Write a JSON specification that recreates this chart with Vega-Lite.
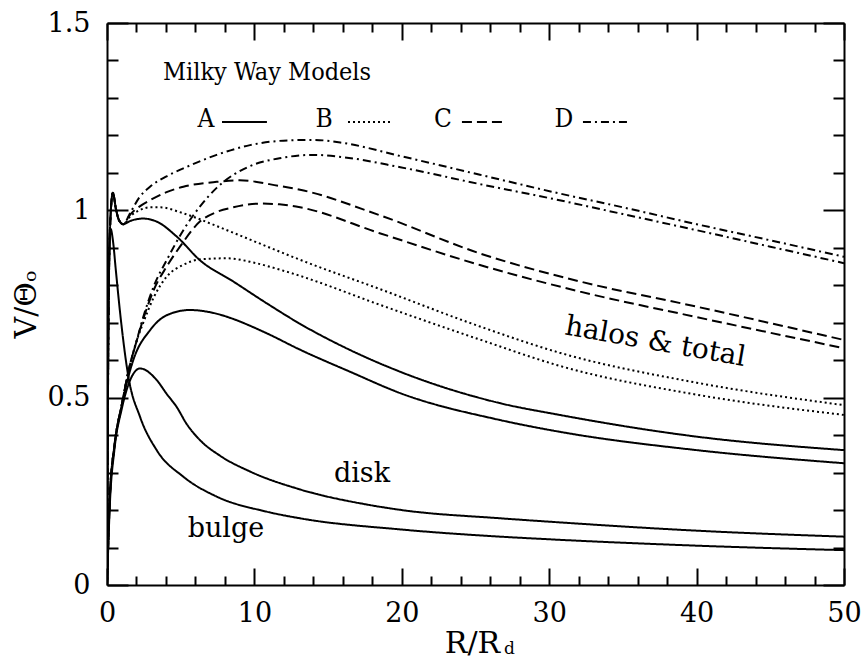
{
  "$schema": "https://vega.github.io/schema/vega-lite/v6.json",
  "width": 737,
  "height": 562,
  "autosize": {"type": "none"},
  "padding": {"left": 107, "top": 23, "right": 21, "bottom": 77},
  "background": "white",
  "config": {
    "view": {"stroke": null},
    "axis": {
      "grid": false,
      "domainColor": "black",
      "domainWidth": 2,
      "tickColor": "black",
      "tickWidth": 2,
      "labelFont": "DejaVu Serif",
      "labelFontSize": 27,
      "labelColor": "black",
      "labelFlush": false,
      "labelOverlap": false,
      "titleFont": "DejaVu Serif",
      "titleFontSize": 30,
      "titleFontWeight": "normal",
      "titleColor": "black"
    }
  },
  "datasets": {
    "curves": [
      {"series": "bulge", "model": "common", "r": 0, "v": 0},
      {"series": "bulge", "model": "common", "r": 0.05, "v": 0.5},
      {"series": "bulge", "model": "common", "r": 0.12, "v": 0.82},
      {"series": "bulge", "model": "common", "r": 0.25, "v": 0.95},
      {"series": "bulge", "model": "common", "r": 0.4, "v": 0.92},
      {"series": "bulge", "model": "common", "r": 0.6, "v": 0.84},
      {"series": "bulge", "model": "common", "r": 0.88, "v": 0.73},
      {"series": "bulge", "model": "common", "r": 1.45, "v": 0.556},
      {"series": "bulge", "model": "common", "r": 2.24, "v": 0.449},
      {"series": "bulge", "model": "common", "r": 3.37, "v": 0.36},
      {"series": "bulge", "model": "common", "r": 5.18, "v": 0.289},
      {"series": "bulge", "model": "common", "r": 7.44, "v": 0.236},
      {"series": "bulge", "model": "common", "r": 10.8, "v": 0.196},
      {"series": "bulge", "model": "common", "r": 13.1, "v": 0.178},
      {"series": "bulge", "model": "common", "r": 20, "v": 0.148},
      {"series": "bulge", "model": "common", "r": 26.7, "v": 0.129},
      {"series": "bulge", "model": "common", "r": 30, "v": 0.122},
      {"series": "bulge", "model": "common", "r": 40, "v": 0.105},
      {"series": "bulge", "model": "common", "r": 50, "v": 0.093},

      {"series": "disk", "model": "common", "r": 0, "v": 0},
      {"series": "disk", "model": "common", "r": 0.2, "v": 0.22},
      {"series": "disk", "model": "common", "r": 0.5, "v": 0.36},
      {"series": "disk", "model": "common", "r": 1, "v": 0.47},
      {"series": "disk", "model": "common", "r": 1.5, "v": 0.54},
      {"series": "disk", "model": "common", "r": 2.24, "v": 0.578},
      {"series": "disk", "model": "common", "r": 3.37, "v": 0.547},
      {"series": "disk", "model": "common", "r": 4.05, "v": 0.51},
      {"series": "disk", "model": "common", "r": 4.73, "v": 0.475},
      {"series": "disk", "model": "common", "r": 5.4, "v": 0.43},
      {"series": "disk", "model": "common", "r": 6.3, "v": 0.387},
      {"series": "disk", "model": "common", "r": 7.67, "v": 0.345},
      {"series": "disk", "model": "common", "r": 9.7, "v": 0.303},
      {"series": "disk", "model": "common", "r": 13.1, "v": 0.255},
      {"series": "disk", "model": "common", "r": 17.6, "v": 0.215},
      {"series": "disk", "model": "common", "r": 20, "v": 0.2},
      {"series": "disk", "model": "common", "r": 26.7, "v": 0.178},
      {"series": "disk", "model": "common", "r": 30, "v": 0.169},
      {"series": "disk", "model": "common", "r": 40, "v": 0.145},
      {"series": "disk", "model": "common", "r": 50, "v": 0.129},

      {"series": "halo A", "model": "A", "r": 0, "v": 0},
      {"series": "halo A", "model": "A", "r": 0.2, "v": 0.24},
      {"series": "halo A", "model": "A", "r": 0.5, "v": 0.37},
      {"series": "halo A", "model": "A", "r": 1, "v": 0.48},
      {"series": "halo A", "model": "A", "r": 1.45, "v": 0.556},
      {"series": "halo A", "model": "A", "r": 1.78, "v": 0.6},
      {"series": "halo A", "model": "A", "r": 2.92, "v": 0.68},
      {"series": "halo A", "model": "A", "r": 4.05, "v": 0.72},
      {"series": "halo A", "model": "A", "r": 5.63, "v": 0.734},
      {"series": "halo A", "model": "A", "r": 7, "v": 0.728},
      {"series": "halo A", "model": "A", "r": 8.57, "v": 0.71},
      {"series": "halo A", "model": "A", "r": 9.7, "v": 0.692},
      {"series": "halo A", "model": "A", "r": 10.83, "v": 0.672},
      {"series": "halo A", "model": "A", "r": 13.1, "v": 0.628},
      {"series": "halo A", "model": "A", "r": 16.5, "v": 0.569},
      {"series": "halo A", "model": "A", "r": 19.9, "v": 0.512},
      {"series": "halo A", "model": "A", "r": 26.7, "v": 0.44},
      {"series": "halo A", "model": "A", "r": 30.7, "v": 0.409},
      {"series": "halo A", "model": "A", "r": 40, "v": 0.36},
      {"series": "halo A", "model": "A", "r": 50, "v": 0.325},

      {"series": "total A", "model": "A", "r": 0, "v": 0},
      {"series": "total A", "model": "A", "r": 0.08, "v": 0.6},
      {"series": "total A", "model": "A", "r": 0.2, "v": 0.95},
      {"series": "total A", "model": "A", "r": 0.4, "v": 1.047},
      {"series": "total A", "model": "A", "r": 0.6, "v": 1.005},
      {"series": "total A", "model": "A", "r": 0.8, "v": 0.975},
      {"series": "total A", "model": "A", "r": 1.1, "v": 0.963},
      {"series": "total A", "model": "A", "r": 1.6, "v": 0.972},
      {"series": "total A", "model": "A", "r": 2.46, "v": 0.978},
      {"series": "total A", "model": "A", "r": 3.37, "v": 0.97},
      {"series": "total A", "model": "A", "r": 4.73, "v": 0.93},
      {"series": "total A", "model": "A", "r": 6.3, "v": 0.867},
      {"series": "total A", "model": "A", "r": 8.57, "v": 0.81},
      {"series": "total A", "model": "A", "r": 10.83, "v": 0.752},
      {"series": "total A", "model": "A", "r": 13.1, "v": 0.697},
      {"series": "total A", "model": "A", "r": 16.5, "v": 0.627},
      {"series": "total A", "model": "A", "r": 19.9, "v": 0.569},
      {"series": "total A", "model": "A", "r": 26.7, "v": 0.485},
      {"series": "total A", "model": "A", "r": 30.7, "v": 0.454},
      {"series": "total A", "model": "A", "r": 40, "v": 0.396},
      {"series": "total A", "model": "A", "r": 50, "v": 0.36},

      {"series": "halo B", "model": "B", "r": 0, "v": 0},
      {"series": "halo B", "model": "B", "r": 0.2, "v": 0.24},
      {"series": "halo B", "model": "B", "r": 0.5, "v": 0.37},
      {"series": "halo B", "model": "B", "r": 1, "v": 0.48},
      {"series": "halo B", "model": "B", "r": 1.45, "v": 0.57},
      {"series": "halo B", "model": "B", "r": 2, "v": 0.65},
      {"series": "halo B", "model": "B", "r": 2.46, "v": 0.7},
      {"series": "halo B", "model": "B", "r": 3.2, "v": 0.77},
      {"series": "halo B", "model": "B", "r": 4.05, "v": 0.823},
      {"series": "halo B", "model": "B", "r": 5.2, "v": 0.855},
      {"series": "halo B", "model": "B", "r": 6.3, "v": 0.869},
      {"series": "halo B", "model": "B", "r": 8.12, "v": 0.872},
      {"series": "halo B", "model": "B", "r": 10, "v": 0.86},
      {"series": "halo B", "model": "B", "r": 11.7, "v": 0.842},
      {"series": "halo B", "model": "B", "r": 13.1, "v": 0.825},
      {"series": "halo B", "model": "B", "r": 18.5, "v": 0.748},
      {"series": "halo B", "model": "B", "r": 25.3, "v": 0.655},
      {"series": "halo B", "model": "B", "r": 30.7, "v": 0.585},
      {"series": "halo B", "model": "B", "r": 40, "v": 0.508},
      {"series": "halo B", "model": "B", "r": 50, "v": 0.454},

      {"series": "total B", "model": "B", "r": 0, "v": 0},
      {"series": "total B", "model": "B", "r": 0.08, "v": 0.6},
      {"series": "total B", "model": "B", "r": 0.2, "v": 0.95},
      {"series": "total B", "model": "B", "r": 0.4, "v": 1.047},
      {"series": "total B", "model": "B", "r": 0.6, "v": 1.005},
      {"series": "total B", "model": "B", "r": 0.8, "v": 0.975},
      {"series": "total B", "model": "B", "r": 1.1, "v": 0.963},
      {"series": "total B", "model": "B", "r": 1.6, "v": 0.985},
      {"series": "total B", "model": "B", "r": 2.2, "v": 1.0},
      {"series": "total B", "model": "B", "r": 2.92, "v": 1.008},
      {"series": "total B", "model": "B", "r": 3.6, "v": 1.008},
      {"series": "total B", "model": "B", "r": 5.18, "v": 0.992},
      {"series": "total B", "model": "B", "r": 7.44, "v": 0.958},
      {"series": "total B", "model": "B", "r": 9.7, "v": 0.922},
      {"series": "total B", "model": "B", "r": 11.7, "v": 0.89},
      {"series": "total B", "model": "B", "r": 13.1, "v": 0.868},
      {"series": "total B", "model": "B", "r": 18.5, "v": 0.79},
      {"series": "total B", "model": "B", "r": 25.3, "v": 0.69},
      {"series": "total B", "model": "B", "r": 30.7, "v": 0.62},
      {"series": "total B", "model": "B", "r": 40, "v": 0.54},
      {"series": "total B", "model": "B", "r": 50, "v": 0.48},

      {"series": "halo C", "model": "C", "r": 0, "v": 0},
      {"series": "halo C", "model": "C", "r": 0.2, "v": 0.24},
      {"series": "halo C", "model": "C", "r": 0.5, "v": 0.37},
      {"series": "halo C", "model": "C", "r": 1, "v": 0.48},
      {"series": "halo C", "model": "C", "r": 1.45, "v": 0.57},
      {"series": "halo C", "model": "C", "r": 2, "v": 0.65},
      {"series": "halo C", "model": "C", "r": 2.46, "v": 0.71},
      {"series": "halo C", "model": "C", "r": 3.2, "v": 0.79},
      {"series": "halo C", "model": "C", "r": 4.05, "v": 0.85},
      {"series": "halo C", "model": "C", "r": 4.95, "v": 0.903},
      {"series": "halo C", "model": "C", "r": 6.3, "v": 0.97},
      {"series": "halo C", "model": "C", "r": 7.4, "v": 0.995},
      {"series": "halo C", "model": "C", "r": 8.57, "v": 1.008},
      {"series": "halo C", "model": "C", "r": 10.4, "v": 1.018},
      {"series": "halo C", "model": "C", "r": 11.7, "v": 1.016},
      {"series": "halo C", "model": "C", "r": 13.1, "v": 1.008},
      {"series": "halo C", "model": "C", "r": 18.5, "v": 0.939},
      {"series": "halo C", "model": "C", "r": 25.3, "v": 0.854},
      {"series": "halo C", "model": "C", "r": 32.1, "v": 0.783},
      {"series": "halo C", "model": "C", "r": 40, "v": 0.715},
      {"series": "halo C", "model": "C", "r": 50, "v": 0.632},

      {"series": "total C", "model": "C", "r": 0, "v": 0},
      {"series": "total C", "model": "C", "r": 0.08, "v": 0.6},
      {"series": "total C", "model": "C", "r": 0.2, "v": 0.95},
      {"series": "total C", "model": "C", "r": 0.4, "v": 1.047},
      {"series": "total C", "model": "C", "r": 0.6, "v": 1.005},
      {"series": "total C", "model": "C", "r": 0.8, "v": 0.975},
      {"series": "total C", "model": "C", "r": 1.1, "v": 0.963},
      {"series": "total C", "model": "C", "r": 1.6, "v": 0.99},
      {"series": "total C", "model": "C", "r": 2.2, "v": 1.01},
      {"series": "total C", "model": "C", "r": 2.92, "v": 1.027},
      {"series": "total C", "model": "C", "r": 4, "v": 1.048},
      {"series": "total C", "model": "C", "r": 5.18, "v": 1.063},
      {"series": "total C", "model": "C", "r": 7.44, "v": 1.076},
      {"series": "total C", "model": "C", "r": 9, "v": 1.08},
      {"series": "total C", "model": "C", "r": 11.7, "v": 1.065},
      {"series": "total C", "model": "C", "r": 13.1, "v": 1.055},
      {"series": "total C", "model": "C", "r": 18.5, "v": 0.987},
      {"series": "total C", "model": "C", "r": 25.3, "v": 0.885},
      {"series": "total C", "model": "C", "r": 32.1, "v": 0.81},
      {"series": "total C", "model": "C", "r": 40, "v": 0.743},
      {"series": "total C", "model": "C", "r": 50, "v": 0.654},

      {"series": "halo D", "model": "D", "r": 0, "v": 0},
      {"series": "halo D", "model": "D", "r": 0.2, "v": 0.24},
      {"series": "halo D", "model": "D", "r": 0.5, "v": 0.37},
      {"series": "halo D", "model": "D", "r": 1, "v": 0.48},
      {"series": "halo D", "model": "D", "r": 1.45, "v": 0.57},
      {"series": "halo D", "model": "D", "r": 2, "v": 0.65},
      {"series": "halo D", "model": "D", "r": 2.46, "v": 0.715},
      {"series": "halo D", "model": "D", "r": 3.2, "v": 0.8},
      {"series": "halo D", "model": "D", "r": 4.05, "v": 0.867},
      {"series": "halo D", "model": "D", "r": 5.18, "v": 0.947},
      {"series": "halo D", "model": "D", "r": 6.3, "v": 1.01},
      {"series": "halo D", "model": "D", "r": 7.44, "v": 1.06},
      {"series": "halo D", "model": "D", "r": 9.7, "v": 1.118},
      {"series": "halo D", "model": "D", "r": 11.7, "v": 1.139},
      {"series": "halo D", "model": "D", "r": 14, "v": 1.148},
      {"series": "halo D", "model": "D", "r": 16, "v": 1.142},
      {"series": "halo D", "model": "D", "r": 19.9, "v": 1.115},
      {"series": "halo D", "model": "D", "r": 25.3, "v": 1.07},
      {"series": "halo D", "model": "D", "r": 30.7, "v": 1.027},
      {"series": "halo D", "model": "D", "r": 35, "v": 0.99},
      {"series": "halo D", "model": "D", "r": 40, "v": 0.947},
      {"series": "halo D", "model": "D", "r": 45, "v": 0.903},
      {"series": "halo D", "model": "D", "r": 50, "v": 0.859},

      {"series": "total D", "model": "D", "r": 0, "v": 0},
      {"series": "total D", "model": "D", "r": 0.08, "v": 0.6},
      {"series": "total D", "model": "D", "r": 0.2, "v": 0.95},
      {"series": "total D", "model": "D", "r": 0.4, "v": 1.047},
      {"series": "total D", "model": "D", "r": 0.6, "v": 1.005},
      {"series": "total D", "model": "D", "r": 0.8, "v": 0.975},
      {"series": "total D", "model": "D", "r": 1.1, "v": 0.963},
      {"series": "total D", "model": "D", "r": 1.6, "v": 0.995},
      {"series": "total D", "model": "D", "r": 2.2, "v": 1.035},
      {"series": "total D", "model": "D", "r": 2.92, "v": 1.063},
      {"series": "total D", "model": "D", "r": 4, "v": 1.09},
      {"series": "total D", "model": "D", "r": 5.18, "v": 1.112},
      {"series": "total D", "model": "D", "r": 7.44, "v": 1.148},
      {"series": "total D", "model": "D", "r": 9.7, "v": 1.174},
      {"series": "total D", "model": "D", "r": 11.96, "v": 1.186},
      {"series": "total D", "model": "D", "r": 14, "v": 1.188},
      {"series": "total D", "model": "D", "r": 16, "v": 1.18},
      {"series": "total D", "model": "D", "r": 19.9, "v": 1.145},
      {"series": "total D", "model": "D", "r": 25.3, "v": 1.095},
      {"series": "total D", "model": "D", "r": 30.7, "v": 1.045},
      {"series": "total D", "model": "D", "r": 35, "v": 1.008},
      {"series": "total D", "model": "D", "r": 40, "v": 0.963},
      {"series": "total D", "model": "D", "r": 45, "v": 0.92},
      {"series": "total D", "model": "D", "r": 50, "v": 0.876}
    ],
    "notes": [
      {"label": "disk", "r": 17.3, "v": 0.275},
      {"label": "bulge", "r": 8.07, "v": 0.128}
    ],
    "slanted": [
      {"label": "halos & total", "r": 37.1, "v": 0.627}
    ],
    "legendTitle": [
      {"label": "Milky Way Models", "r": 3.8, "v": 1.349}
    ],
    "legend": [
      {"model": "A", "r": 6.72, "r1": 7.8, "r2": 10.85, "v": 1.222, "vLine": 1.236},
      {"model": "B", "r": 14.72, "r1": 16.35, "r2": 19.4, "v": 1.222, "vLine": 1.236},
      {"model": "C", "r": 22.8, "r1": 24.08, "r2": 26.87, "v": 1.222, "vLine": 1.236},
      {"model": "D", "r": 31.0, "r1": 32.29, "r2": 35.48, "v": 1.222, "vLine": 1.236}
    ],
    "subscript": [
      {"label": "d", "r": 27.3, "v": -0.185}
    ]
  },
  "layer": [
    {
      "data": {"name": "curves"},
      "mark": {"type": "line", "interpolate": "monotone", "color": "black", "strokeWidth": 2, "clip": true},
      "encoding": {
        "x": {
          "field": "r", "type": "quantitative",
          "scale": {"domain": [0, 50], "nice": false, "zero": false},
          "axis": {
            "orient": "bottom",
            "values": [0, 2, 4, 6, 8, 10, 12, 14, 16, 18, 20, 22, 24, 26, 28, 30, 32, 34, 36, 38, 40, 42, 44, 46, 48, 50],
            "tickSize": {"condition": {"test": "datum.value % 10 === 0", "value": -17}, "value": -9},
            "labelExpr": "datum.value % 10 === 0 ? '' + datum.value : ''",
            "labelPadding": 32,
            "title": "R/R",
            "titleX": 365,
            "titleY": 67,
            "titleAlign": "center",
            "titleBaseline": "alphabetic"
          }
        },
        "y": {
          "field": "v", "type": "quantitative",
          "scale": {"domain": [0, 1.5], "nice": false, "zero": false},
          "axis": {
            "orient": "left",
            "values": [0, 0.1, 0.2, 0.3, 0.4, 0.5, 0.6, 0.7, 0.8, 0.9, 1, 1.1, 1.2, 1.3, 1.4, 1.5],
            "tickSize": {"condition": {"test": "round(datum.value * 10) % 5 === 0", "value": -21}, "value": -11},
            "labelExpr": "round(datum.value * 10) % 5 === 0 ? '' + round(datum.value * 10) / 10 : ''",
            "labelPadding": 38,
            "title": "V/Θₒ",
            "titleX": -72,
            "titleY": 281,
            "titleAlign": "center",
            "titleBaseline": "alphabetic"
          }
        },
        "strokeDash": {
          "field": "model", "type": "nominal",
          "scale": {"domain": ["A", "B", "C", "D", "common"], "range": [[1, 0], [2, 3], [10, 5], [8, 4, 2, 4], [1, 0]]},
          "legend": null
        },
        "detail": {"field": "series", "type": "nominal"}
      }
    },
    {
      "data": {"name": "notes"},
      "mark": {"type": "text", "font": "DejaVu Serif", "fontSize": 27, "align": "center", "baseline": "alphabetic", "color": "black"},
      "encoding": {
        "x": {
          "field": "r", "type": "quantitative",
          "scale": {"domain": [0, 50], "nice": false, "zero": false},
          "axis": {
            "orient": "top",
            "values": [0, 2, 4, 6, 8, 10, 12, 14, 16, 18, 20, 22, 24, 26, 28, 30, 32, 34, 36, 38, 40, 42, 44, 46, 48, 50],
            "tickSize": {"condition": {"test": "datum.value % 10 === 0", "value": -17}, "value": -9},
            "labels": false,
            "title": null
          }
        },
        "y": {
          "field": "v", "type": "quantitative",
          "scale": {"domain": [0, 1.5], "nice": false, "zero": false},
          "axis": {
            "orient": "right",
            "values": [0, 0.1, 0.2, 0.3, 0.4, 0.5, 0.6, 0.7, 0.8, 0.9, 1, 1.1, 1.2, 1.3, 1.4, 1.5],
            "tickSize": {"condition": {"test": "round(datum.value * 10) % 5 === 0", "value": -21}, "value": -11},
            "labels": false,
            "title": null
          }
        },
        "text": {"field": "label"}
      }
    },
    {
      "data": {"name": "slanted"},
      "mark": {"type": "text", "font": "DejaVu Serif", "fontSize": 28, "align": "center", "baseline": "alphabetic", "angle": 10, "color": "black"},
      "encoding": {
        "x": {"field": "r", "type": "quantitative", "scale": {"domain": [0, 50], "nice": false, "zero": false}, "axis": null},
        "y": {"field": "v", "type": "quantitative", "scale": {"domain": [0, 1.5], "nice": false, "zero": false}, "axis": null},
        "text": {"field": "label"}
      }
    },
    {
      "data": {"name": "legendTitle"},
      "mark": {"type": "text", "font": "DejaVu Serif Condensed, DejaVu Serif", "fontSize": 25, "align": "left", "baseline": "alphabetic", "color": "black"},
      "encoding": {
        "x": {"field": "r", "type": "quantitative", "scale": {"domain": [0, 50], "nice": false, "zero": false}, "axis": null},
        "y": {"field": "v", "type": "quantitative", "scale": {"domain": [0, 1.5], "nice": false, "zero": false}, "axis": null},
        "text": {"field": "label"}
      }
    },
    {
      "data": {"name": "legend"},
      "mark": {"type": "text", "font": "DejaVu Serif Condensed, DejaVu Serif", "fontSize": 26, "align": "center", "baseline": "alphabetic", "color": "black"},
      "encoding": {
        "x": {"field": "r", "type": "quantitative", "scale": {"domain": [0, 50], "nice": false, "zero": false}, "axis": null},
        "y": {"field": "v", "type": "quantitative", "scale": {"domain": [0, 1.5], "nice": false, "zero": false}, "axis": null},
        "text": {"field": "model"}
      }
    },
    {
      "data": {"name": "legend"},
      "mark": {"type": "rule", "color": "black", "strokeWidth": 2},
      "encoding": {
        "x": {"field": "r1", "type": "quantitative", "scale": {"domain": [0, 50], "nice": false, "zero": false}, "axis": null},
        "x2": {"field": "r2"},
        "y": {"field": "vLine", "type": "quantitative", "scale": {"domain": [0, 1.5], "nice": false, "zero": false}, "axis": null},
        "strokeDash": {
          "field": "model", "type": "nominal",
          "scale": {"domain": ["A", "B", "C", "D", "common"], "range": [[1, 0], [2, 3], [10, 5], [8, 4, 2, 4], [1, 0]]},
          "legend": null
        }
      }
    },
    {
      "data": {"name": "subscript"},
      "mark": {"type": "text", "font": "DejaVu Serif", "fontSize": 17, "align": "center", "baseline": "alphabetic", "color": "black"},
      "encoding": {
        "x": {"field": "r", "type": "quantitative", "scale": {"domain": [0, 50], "nice": false, "zero": false}, "axis": null},
        "y": {"field": "v", "type": "quantitative", "scale": {"domain": [0, 1.5], "nice": false, "zero": false}, "axis": null},
        "text": {"field": "label"}
      }
    }
  ],
  "resolve": {"axis": {"x": "independent", "y": "independent"}}
}
